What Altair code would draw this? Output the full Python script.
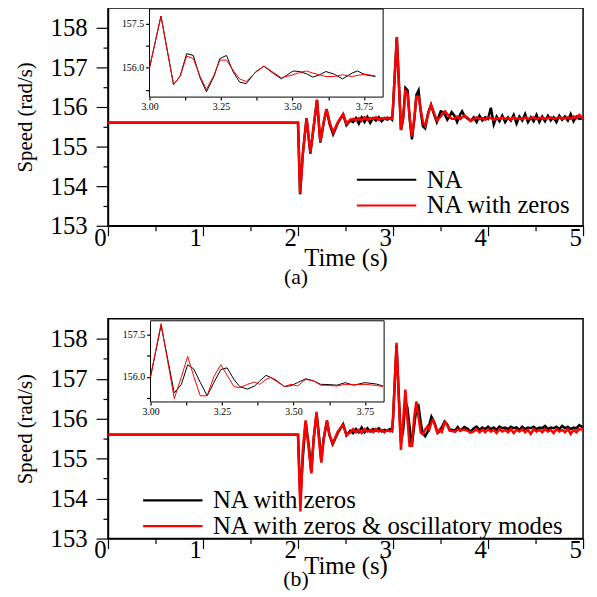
import altair as alt
import pandas as pd

FONT = "Liberation Serif"

# ---------------- Panel (a): NA (black) vs NA with zeros (red) ----------------
T_A = [0.00, 2.00, 2.022, 2.05, 2.09, 2.13, 2.17, 2.20, 2.235, 2.27, 2.30, 2.335, 2.37,
       2.42, 2.475, 2.51, 2.55, 2.58, 2.61, 2.64, 2.67, 2.70, 2.73, 2.76, 2.79, 2.82,
       2.85, 2.88, 2.91, 2.94, 2.97, 2.99,
       3.000, 3.040, 3.084, 3.107, 3.130, 3.153, 3.177, 3.199, 3.225, 3.246, 3.269,
       3.292, 3.315, 3.338, 3.372, 3.400, 3.433, 3.461, 3.502, 3.525, 3.548, 3.571,
       3.594, 3.617, 3.646, 3.675, 3.709, 3.727, 3.755, 3.790, 3.819,
       3.85, 3.88, 3.91, 3.94, 3.97, 4.00, 4.03, 4.06, 4.09, 4.12, 4.15, 4.18, 4.21,
       4.24, 4.27, 4.30, 4.33, 4.36, 4.39, 4.42, 4.45, 4.48, 4.51, 4.54, 4.57, 4.60,
       4.63, 4.66, 4.69, 4.72, 4.75, 4.78, 4.81, 4.84, 4.87, 4.90, 4.93, 4.96, 5.00]
NA_A = [155.60, 155.60, 153.80, 154.80, 155.72, 154.82, 155.60, 156.18, 155.10, 155.60, 155.94, 155.55, 155.31,
        155.60, 155.81, 155.54, 155.66, 155.62, 155.72, 155.58, 155.74, 155.62, 155.75, 155.60, 155.72, 155.66,
        155.74, 155.64, 155.72, 155.68, 155.72, 155.68,
        156.00, 157.76, 155.42, 155.72, 156.48, 156.42, 155.65, 155.18, 155.70, 156.31, 156.42,
        155.87, 155.51, 155.46, 155.87, 156.05, 155.81, 155.62, 155.89, 155.87, 155.80, 155.68,
        155.76, 155.87, 155.78, 155.62, 155.82, 155.89, 155.76, 155.70, 155.65,
        155.74, 155.62, 155.78, 155.66, 155.74, 155.70, 155.98, 155.56, 155.76, 155.64, 155.78, 155.62, 155.74,
        155.66, 155.80, 155.58, 155.76, 155.66, 155.82, 155.62, 155.74, 155.64, 155.80, 155.62, 155.76, 155.64,
        155.78, 155.66, 155.74, 155.62, 155.78, 155.68, 155.76, 155.66, 155.82, 155.64, 155.76, 155.70, 155.72]
NAZ_A = [155.60, 155.60, 153.82, 154.80, 155.72, 154.85, 155.60, 156.18, 155.12, 155.60, 155.95, 155.60, 155.36,
         155.62, 155.82, 155.58, 155.68, 155.70, 155.66, 155.72, 155.65, 155.74, 155.68, 155.72, 155.70, 155.74,
         155.68, 155.72, 155.70, 155.74, 155.70, 155.70,
         156.00, 157.76, 155.42, 155.72, 156.40, 156.31, 155.70, 155.26, 155.74, 156.26, 156.26,
         155.92, 155.62, 155.53, 155.85, 156.06, 155.84, 155.66, 155.76, 155.84, 155.89, 155.82,
         155.76, 155.70, 155.70, 155.76, 155.70, 155.74, 155.78, 155.72, 155.65,
         155.70, 155.74, 155.70, 155.72, 155.68, 155.74, 155.72, 155.68, 155.72, 155.70, 155.74, 155.70, 155.72,
         155.68, 155.74, 155.70, 155.72, 155.70, 155.74, 155.70, 155.72, 155.74, 155.70, 155.72, 155.74, 155.70,
         155.72, 155.74, 155.70, 155.72, 155.74, 155.70, 155.72, 155.74, 155.70, 155.76, 155.72, 155.80, 155.70]

# ---------------- Panel (b): NA with zeros (black) vs + oscillatory modes (red) ----------------
T_B = [0.00, 2.00, 2.025, 2.05, 2.08, 2.115, 2.14, 2.165, 2.195, 2.22, 2.245, 2.27, 2.305, 2.33, 2.365,
       2.42, 2.475, 2.51, 2.55, 2.58, 2.61, 2.64, 2.67, 2.70, 2.73, 2.76, 2.79, 2.82, 2.85, 2.88,
       2.91, 2.94, 2.97, 2.99,
       3.000, 3.037, 3.083, 3.108, 3.130, 3.151, 3.174, 3.198, 3.222, 3.246, 3.268, 3.292, 3.312,
       3.339, 3.364, 3.382, 3.404, 3.420, 3.439, 3.468, 3.491, 3.514, 3.543, 3.571, 3.595, 3.625,
       3.652, 3.681, 3.710, 3.750, 3.790, 3.813,
       3.85, 3.88, 3.91, 3.94, 3.97, 4.00, 4.03, 4.06, 4.09, 4.12, 4.15, 4.18, 4.21, 4.24, 4.27,
       4.30, 4.33, 4.36, 4.39, 4.42, 4.45, 4.48, 4.51, 4.54, 4.57, 4.60, 4.63, 4.66, 4.69, 4.72,
       4.75, 4.78, 4.81, 4.84, 4.87, 4.90, 4.93, 4.96, 5.00]
NAZ_B = [155.60, 155.60, 153.97, 155.00, 155.92, 155.30, 154.66, 155.50, 156.12, 155.60, 154.94, 155.50, 155.94, 155.60, 155.36,
         155.65, 155.86, 155.58, 155.70, 155.64, 155.74, 155.66, 155.78, 155.66, 155.76, 155.68, 155.74, 155.70, 155.76, 155.68,
         155.72, 155.70, 155.74, 155.70,
         156.00, 157.84, 155.42, 155.73, 156.43, 156.28, 155.80, 155.32, 155.80, 156.26, 156.32, 155.90, 155.65,
         155.56, 155.67, 155.85, 156.05, 155.98, 155.88, 155.65, 155.68, 155.79, 155.93, 155.85, 155.73, 155.72,
         155.70, 155.79, 155.70, 155.79, 155.74, 155.67,
         155.76, 155.80, 155.72, 155.78, 155.74, 155.80, 155.74, 155.78, 155.72, 155.80, 155.76, 155.78, 155.74, 155.80, 155.76,
         155.78, 155.72, 155.80, 155.74, 155.78, 155.76, 155.80, 155.74, 155.78, 155.76, 155.82, 155.74, 155.78, 155.76, 155.80,
         155.74, 155.82, 155.76, 155.80, 155.74, 155.78, 155.76, 155.84, 155.78]
NAZO_B = [155.60, 155.60, 153.68, 155.20, 155.96, 155.20, 154.63, 155.50, 156.17, 155.50, 154.90, 155.50, 155.96, 155.60, 155.38,
          155.68, 155.84, 155.59, 155.66, 155.74, 155.66, 155.72, 155.64, 155.74, 155.68, 155.72, 155.66, 155.74, 155.68, 155.72,
          155.66, 155.72, 155.68, 155.70,
          156.00, 157.90, 155.22, 156.00, 156.73, 156.02, 155.32, 155.32, 156.02, 156.43, 156.05, 155.65, 155.61,
          155.73, 155.81, 155.73, 155.91, 155.97, 155.85, 155.65, 155.73, 155.67, 155.91, 155.85, 155.70, 155.69,
          155.67, 155.73, 155.71, 155.73, 155.69, 155.65,
          155.68, 155.74, 155.66, 155.72, 155.66, 155.74, 155.68, 155.72, 155.64, 155.74, 155.68, 155.72, 155.66, 155.74, 155.64,
          155.72, 155.68, 155.74, 155.66, 155.72, 155.62, 155.74, 155.68, 155.72, 155.66, 155.74, 155.68, 155.72, 155.64, 155.74,
          155.68, 155.72, 155.66, 155.74, 155.62, 155.72, 155.66, 155.74, 155.72]

LABELS_A = ["NA", "NA with zeros"]
LABELS_B = ["NA with zeros", "NA with zeros & oscillatory modes"]
COLORS = ["black", "red"]

MAIN_X = [0, 5]
MAIN_Y = [153, 158.5]
MAIN_X_TICKS = [0, 0.5, 1, 1.5, 2, 2.5, 3, 3.5, 4, 4.5, 5]
MAIN_Y_TICKS = [153, 153.5, 154, 154.5, 155, 155.5, 156, 156.5, 157, 157.5, 158]
INSET_X = [3.0, 3.817]
INSET_X_TICKS = [3.0, 3.125, 3.25, 3.375, 3.5, 3.625, 3.75]
INSET_Y_A = [155.0, 158.0]
INSET_Y_B = [155.1, 158.0]
INSET_Y_TICKS = [155.25, 156.0, 156.75, 157.5]

W = 480


def long_df(t, a, b, labels):
    rows = [{"t": x, "v": y, "s": labels[0]} for x, y in zip(t, a)]
    rows += [{"t": x, "v": y, "s": labels[1]} for x, y in zip(t, b)]
    return pd.DataFrame(rows)


def panel(df, labels, inset_y, xr, yr, H, leg_x, leg_y, leg_h, tag, lab_pad, tit_pad, tag_off):
    x_axis = alt.Axis(orient="bottom", values=MAIN_X_TICKS,
                      labelExpr="datum.value % 1 === 0 ? datum.label : ''",
                      format="~g",
                      tickSize={"condition": {"test": "datum.value % 1 === 0", "value": 10}, "value": 5},
                      labelPadding=lab_pad, labelOffset=-8,
                      labelFont=FONT, labelFontSize=25, labelColor="black",
                      title="Time (s)", titleFont=FONT, titleFontSize=25, titleFontWeight="normal",
                      titleColor="black", titlePadding=tit_pad, grid=False, labelFlush=False)
    y_axis = alt.Axis(orient="left", values=MAIN_Y_TICKS,
                      labelExpr="datum.value % 1 === 0 ? datum.label : ''",
                      format="~g",
                      tickSize={"condition": {"test": "datum.value % 1 === 0", "value": 12}, "value": 5},
                      labelPadding=9, labelFont=FONT, labelFontSize=25, labelColor="black",
                      title="Speed (rad/s)", titleFont=FONT, titleFontSize=21, titleFontWeight="normal",
                      titleColor="black", titlePadding=15, grid=False, labelFlush=False)
    xs = alt.Scale(domain=MAIN_X, nice=False, zero=False)
    ys = alt.Scale(domain=MAIN_Y, nice=False, zero=False)
    legend = alt.Legend(orient="none", legendX=leg_x, legendY=leg_y, title=None,
                        symbolType="M0,0H12", symbolSize=100, symbolStrokeWidth=2.2,
                        labelFont=FONT, labelFontSize=25, labelColor="black", labelOffset=58,
                        labelLimit=0, rowPadding=0, clipHeight=leg_h)
    cscale = alt.Scale(domain=labels, range=COLORS)

    base = alt.Chart(df)
    m_black = base.transform_filter(alt.datum.s == labels[0]).mark_line(strokeWidth=2.5).encode(
        x=alt.X("t:Q", scale=xs, axis=x_axis), y=alt.Y("v:Q", scale=ys, axis=y_axis),
        color=alt.Color("s:N", scale=cscale, legend=legend))
    m_red = base.transform_filter(alt.datum.s == labels[1]).mark_line(strokeWidth=2.5).encode(
        x=alt.X("t:Q", scale=xs, axis=None), y=alt.Y("v:Q", scale=ys, axis=None),
        color=alt.Color("s:N", scale=cscale, legend=legend))

    ixs = alt.Scale(domain=INSET_X, range=xr, nice=False, zero=False)
    iys = alt.Scale(domain=inset_y, range=yr, nice=False, zero=False)
    ix_axis = alt.Axis(orient="bottom", offset=-(H - yr[0]), values=INSET_X_TICKS, format=".2f",
                       labelExpr="indexof(['3.00','3.25','3.50','3.75'], datum.label) >= 0 ? datum.label : ''",
                       tickSize=3, labelPadding=2, labelFont=FONT, labelFontSize=10, labelColor="black",
                       title=None, grid=False, domain=False, labelFlush=False)
    iy_axis = alt.Axis(orient="left", offset=-xr[0], values=INSET_Y_TICKS, format=".1f",
                       labelExpr="datum.label == '156.0' || datum.label == '157.5' ? datum.label : ''",
                       tickSize=4, labelPadding=2, labelFont=FONT, labelFontSize=10, labelColor="black",
                       title=None, grid=False, domain=False, labelFlush=False)
    frame = alt.Chart(pd.DataFrame({"k": [0]})).mark_rect(fill="white", stroke="black", strokeWidth=1).encode(
        x=alt.X(datum=INSET_X[0], type="quantitative", scale=ixs, axis=None),
        x2=alt.X2(datum=INSET_X[1]),
        y=alt.Y(datum=inset_y[0], type="quantitative", scale=iys, axis=None),
        y2=alt.Y2(datum=inset_y[1]))
    idf = base.transform_filter((alt.datum.t >= INSET_X[0]) & (alt.datum.t <= INSET_X[1]))
    i_black = idf.transform_filter(alt.datum.s == labels[0]).mark_line(strokeWidth=1, clip=True).encode(
        x=alt.X("t:Q", scale=ixs, axis=ix_axis), y=alt.Y("v:Q", scale=iys, axis=iy_axis),
        color=alt.Color("s:N", scale=cscale, legend=None))
    i_red = idf.transform_filter(alt.datum.s == labels[1]).mark_line(strokeWidth=1, clip=True).encode(
        x=alt.X("t:Q", scale=ixs, axis=None), y=alt.Y("v:Q", scale=iys, axis=None),
        color=alt.Color("s:N", scale=cscale, legend=None))

    return alt.layer(m_black, m_red, frame, i_black, i_red).resolve_scale(
        x="independent", y="independent").properties(
        width=W, height=H,
        title=alt.TitleParams(text=tag, orient="bottom", font=FONT, fontSize=22, fontWeight="normal",
                              color="black", dx=-50, offset=tag_off))


df_a = long_df(T_A, NA_A, NAZ_A, LABELS_A)
df_b = long_df(T_B, NAZ_B, NAZO_B, LABELS_B)

pa = panel(df_a, LABELS_A, INSET_Y_A, [42, 278], [90, 1], 220, 239, 161, 25, "(a)", -10, -5, -3)
pb = panel(df_b, LABELS_B, INSET_Y_B, [43, 279], [84, 2], 222, 23, 172, 23, "(b)", -11, -9, -9)

chart = alt.vconcat(pa, pb, spacing=29).resolve_scale(color="independent").properties(
    padding={"left": 5, "top": -4, "right": 0, "bottom": 0}, background="white"
).configure_view(stroke="black", strokeWidth=1.5).configure_axis(
    domainColor="black", tickColor="black", domainWidth=1.5, tickWidth=1.2
)

chart.save("out.html", embed_options={"renderer": "svg", "actions": False})
